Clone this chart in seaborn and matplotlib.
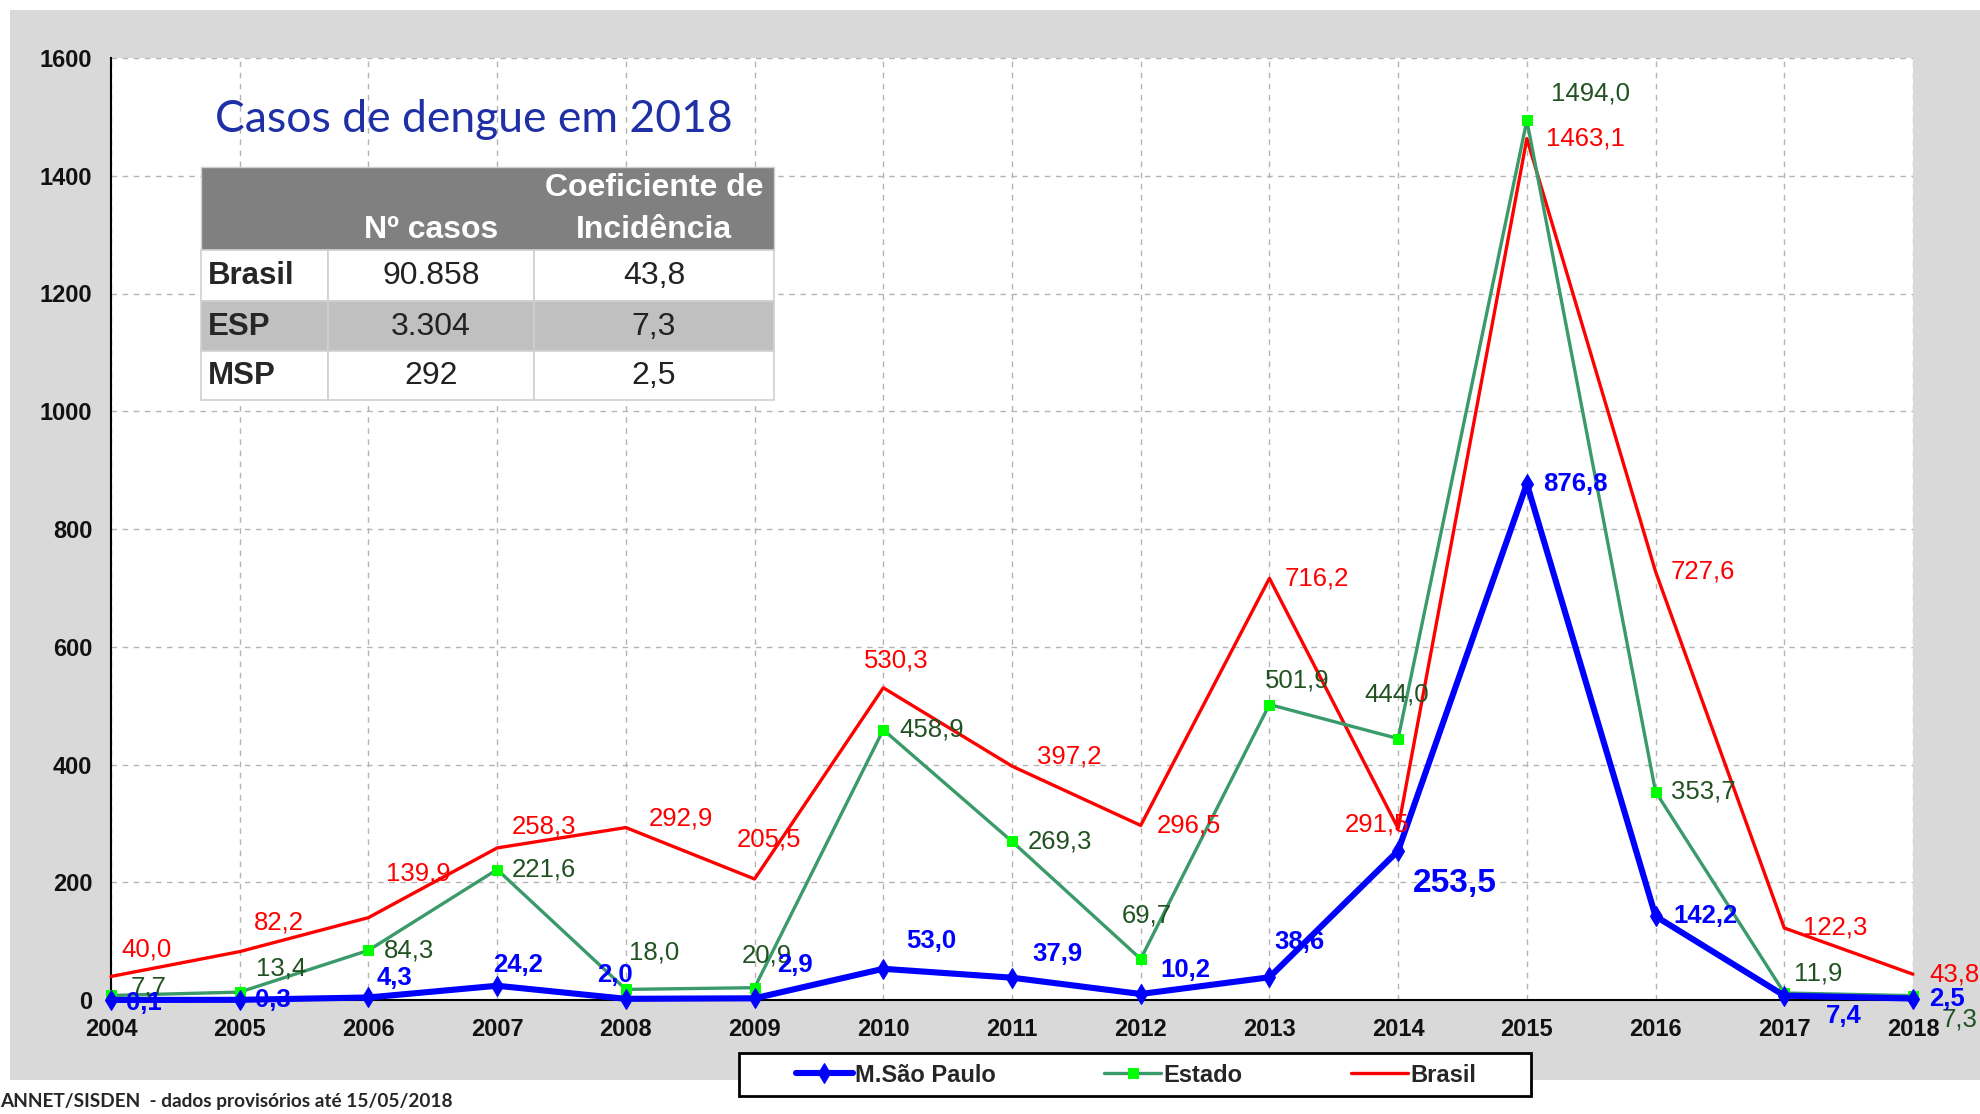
import matplotlib
matplotlib.use("Agg")
import matplotlib.pyplot as plt
import pandas as pd
import seaborn as sns
from matplotlib.patches import Rectangle

# data
years = list(range(2004, 2019))
msp = [0.1, 0.3, 4.3, 24.2, 2.0, 2.9, 53.0, 37.9, 10.2, 38.6, 253.5, 876.8, 142.2, 7.4, 2.5]
estado = [7.7, 13.4, 84.3, 221.6, 18.0, 20.9, 458.9, 269.3, 69.7, 501.9, 444.0, 1494.0, 353.7, 11.9, 7.3]
brasil = [40.0, 82.2, 139.9, 258.3, 292.9, 205.5, 530.3, 397.2, 296.5, 716.2, 291.5, 1463.1, 727.6, 122.3, 43.8]

table_rows = ["Brasil", "ESP", "MSP"]
table_casos = ["90.858", "3.304", "292"]
table_coef = ["43,8", "7,3", "2,5"]

# label offsets in pixels (dx, dy)
off_brasil = [(10, 27), (14, 29), (18, 44), (15, 21), (23, 9), (-18, 40), (-19, 27), (25, 10),
              (16, 0), (15, 0), (-53, 4), (19, 0), (15, 0), (19, 0), (16, 0)]
off_estado = [(20, 8), (16, 24), (15, 0), (15, 0), (3, 37), (-13, 32), (16, 0), (16, 0),
              (-19, 43), (-5, 24), (-34, 44), (24, 27), (15, 0), (10, 19), (29, -24)]
off_msp = [(15, -3), (15, 0), (8, 19), (-4, 21), (-29, 24), (23, 33), (23, 28), (20, 24),
           (20, 24), (5, 35), (15, -33), (16, 0), (18, 0), (42, -20), (16, 0)]

W, H = 1980, 1114
RED, GREEN, BLUE = "#FF0000", "#3A9A6A", "#0000FF"

sns.set_theme(style="white")
plt.rcParams["font.family"] = ["Liberation Sans", "DejaVu Sans"]

fig = plt.figure(figsize=(W / 100, H / 100), dpi=100)
fig.patch.set_facecolor("white")

# background layer in pixel coordinates
bg = fig.add_axes([0, 0, 1, 1], zorder=0)
bg.set_xlim(0, W)
bg.set_ylim(H, 0)
bg.axis("off")
bg.add_patch(Rectangle((10, 10), W - 10, 1070, facecolor="#D9D9D9", edgecolor="none"))
# legend box
bg.add_patch(Rectangle((739, 1053), 792, 43, facecolor="white", edgecolor="black", lw=2))

ax = fig.add_axes([111 / W, 1 - 1000 / H, 1802 / W, 942 / H], zorder=1)
ax.set_facecolor("white")

df = pd.DataFrame({"ano": years, "msp": msp, "estado": estado, "brasil": brasil})

sns.lineplot(data=df, x="ano", y="brasil", ax=ax, color=RED, lw=2.4,
             label="Brasil", clip_on=False, zorder=3)
sns.lineplot(data=df, x="ano", y="estado", ax=ax, color=GREEN, lw=2.4,
             marker="s", markersize=7, markerfacecolor="#00FF00",
             markeredgecolor="#00FF00", label="Estado", clip_on=False, zorder=4)
sns.lineplot(data=df, x="ano", y="msp", ax=ax, color=BLUE, lw=4.4,
             marker="d", markersize=10, markerfacecolor=BLUE, markeredgecolor=BLUE,
             label="M.São Paulo", clip_on=False, zorder=5)

ax.set_xlim(2004, 2018)
ax.set_ylim(0, 1600)
ax.set_xticks(years)
ax.set_yticks(range(0, 1601, 200))
ax.set_xlabel("")
ax.set_ylabel("")
ax.grid(True, linestyle=(0, (4, 4)), color="#B4B4B4", lw=1)
for side in ["top", "right"]:
    ax.spines[side].set_visible(False)
for side in ["left", "bottom"]:
    ax.spines[side].set_color("black")
    ax.spines[side].set_linewidth(1.5)
ax.tick_params(axis="y", direction="out", length=4.5, width=1.2, pad=9,
               labelsize=17, color="black")
ax.tick_params(axis="x", length=0, pad=13, labelsize=17)
for lab in ax.get_xticklabels() + ax.get_yticklabels():
    lab.set_fontweight("bold")
    lab.set_color("#111111")

ax.get_legend().remove()


def fmt(v):
    return f"{v:.1f}".replace(".", ",")


for vals, offs, color, weight in [(brasil, off_brasil, RED, "normal"),
                                  (estado, off_estado, "#215221", "normal"),
                                  (msp, off_msp, BLUE, "bold")]:
    for yr, v, (dx, dy) in zip(years, vals, offs):
        size = 18.5
        if vals is msp and yr == 2014:
            size = 24
        ax.annotate(fmt(v), (yr, v), xytext=(dx, dy), textcoords="offset pixels",
                    ha="left", va="center", color=color, fontsize=size,
                    fontweight=weight, annotation_clip=False, zorder=6)

handles, labels = ax.get_legend_handles_labels()
order = [labels.index(n) for n in ["M.São Paulo", "Estado", "Brasil"]]
leg = fig.legend([handles[i] for i in order], [labels[i] for i in order],
                 loc="center", bbox_to_anchor=(1136 / W, 1 - 1075 / H),
                 ncol=3, frameon=False, handlelength=2.4, handletextpad=0.1,
                 columnspacing=4.6, prop={"weight": "bold", "size": 17})

# overlay: title, table, footer
fg = fig.add_axes([0, 0, 1, 1], zorder=10)
fg.set_xlim(0, W)
fg.set_ylim(H, 0)
fg.axis("off")
fg.patch.set_alpha(0)

fg.text(215, 120, "Casos de dengue em 2018", color="#1F2FA6", fontsize=32,
        family=["Lato", "DejaVu Sans"], ha="left", va="center")

col_x = [201, 328, 534, 774]
row_y = [167, 250, 301, 351, 400]
fg.add_patch(Rectangle((col_x[0], row_y[0]), col_x[-1] - col_x[0], row_y[1] - row_y[0],
                       facecolor="#808080", edgecolor="#D0D0D0", lw=1))
for i, name in enumerate(table_rows):
    y0, y1 = row_y[i + 1], row_y[i + 2]
    face = "#C0C0C0" if i == 1 else "white"
    for j in range(3):
        fg.add_patch(Rectangle((col_x[j], y0), col_x[j + 1] - col_x[j], y1 - y0,
                               facecolor=face, edgecolor="#D0D0D0", lw=1.2))
    yc = (y0 + y1) / 2 + 1
    fg.text(col_x[0] + 7, yc, name, fontsize=22.5, fontweight="bold", ha="left", va="center")
    fg.text((col_x[1] + col_x[2]) / 2, yc, table_casos[i], fontsize=23, color="#222222",
            ha="center", va="center")
    fg.text((col_x[2] + col_x[3]) / 2, yc, table_coef[i], fontsize=23, color="#222222",
            ha="center", va="center")
fg.text((col_x[1] + col_x[2]) / 2, 230, "Nº casos", fontsize=23, color="white",
        fontweight="bold", ha="center", va="center")
fg.text((col_x[2] + col_x[3]) / 2, 188, "Coeficiente de", fontsize=23, color="white",
        fontweight="bold", ha="center", va="center")
fg.text((col_x[2] + col_x[3]) / 2, 230, "Incidência", fontsize=23, color="white",
        fontweight="bold", ha="center", va="center")

fg.text(0, 1101, "ANNET/SISDEN  - dados provisórios até 15/05/2018", fontsize=13.7,
        fontweight="bold", family=["Lato", "DejaVu Sans"], ha="left", va="center")

fig.savefig("out.png", dpi=100)
